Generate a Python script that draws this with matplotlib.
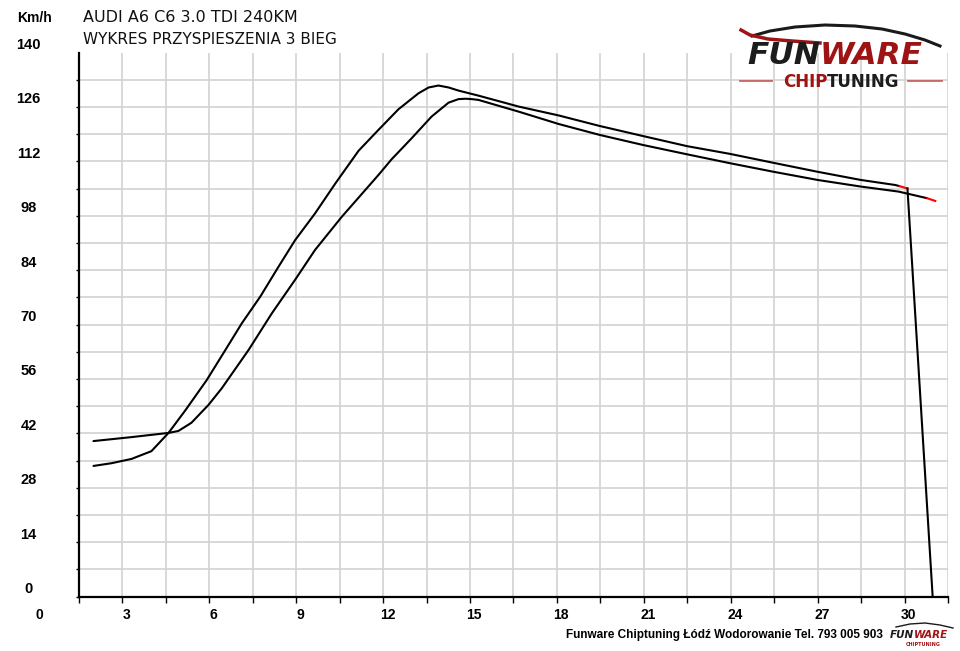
import numpy as np
import matplotlib
matplotlib.use("Agg")
import matplotlib.pyplot as plt
import matplotlib.transforms as mtransforms
from matplotlib.lines import Line2D

# Dane (czas [s], predkosc [km/h])
t_a = [2.0, 2.62, 3.31, 4.0, 4.59, 5.18, 5.91, 6.55, 7.12, 7.76, 8.39, 8.96, 9.65,
       10.35, 11.15, 11.84, 12.53, 13.22, 13.57, 13.91, 14.26, 14.6, 15.29, 16.67,
       18.06, 19.47, 20.97, 22.49, 23.98, 25.48, 27.0, 28.49, 29.68, 29.83, 30.1]
v_a = [33.6, 34.3, 35.4, 37.4, 42.1, 48.0, 55.7, 63.4, 70.3, 77.2, 84.9, 91.7, 98.6,
       106.3, 114.7, 120.1, 125.4, 129.5, 131.0, 131.5, 131.0, 130.2, 128.9, 126.1,
       123.8, 121.1, 118.5, 115.9, 113.9, 111.6, 109.3, 107.2, 105.9, 105.6, 105.0]

t_b = [2.0, 3.29, 4.59, 4.93, 5.38, 5.97, 6.43, 7.35, 8.16, 8.96, 9.65, 10.57, 11.84,
       12.29, 12.98, 13.67, 14.26, 14.6, 14.85, 15.06, 15.29, 16.67, 18.06, 19.47,
       20.97, 22.49, 23.98, 25.48, 27.0, 28.49, 29.8, 30.78, 31.06]
v_b = [40.0, 41.0, 42.1, 42.6, 44.7, 49.3, 53.6, 63.4, 72.9, 81.5, 89.2, 97.7, 108.5,
       112.5, 117.9, 123.5, 127.1, 128.0, 128.1, 128.0, 127.8, 124.8, 121.6, 118.8,
       116.2, 113.8, 111.5, 109.3, 107.2, 105.5, 104.2, 102.5, 101.8]

# Hamowanie na koncu pomiaru
t_drop = [30.1, 30.97]
v_drop = [105.0, 0.0]

x_labels = [0, 3, 6, 9, 12, 15, 18, 21, 24, 27, 30]
y_labels = [0, 14, 28, 42, 56, 70, 84, 98, 112, 126, 140]

title1 = "AUDI A6 C6 3.0 TDI 240KM"
title2 = "WYKRES PRZYSPIESZENIA 3 BIEG"
footer = "Funware Chiptuning Łódź Wodorowanie Tel. 793 005 903"

W, H = 960, 651
def fx(px):
    return px / W
def fy(py):
    return 1 - py / H

bold_font = ["Liberation Sans", "DejaVu Sans"]

fig = plt.figure(figsize=(9.6, 6.51), dpi=100)
ax = fig.add_axes([fx(79), 1 - 596.5 / H, (948 - 79) / W, (596.5 - 52.5) / H])

ax.set_xlim(1.5, 31.5)
ax.set_ylim(0, 140)
ax.set_xticks(np.arange(1.5, 31.6, 1.5))
ax.set_yticks(np.arange(0, 134, 7))
ax.set_xticklabels([])
ax.set_yticklabels([])
ax.tick_params(axis="x", direction="out", length=4, width=1, color="black")
ax.tick_params(axis="y", direction="out", length=2, width=1, color="black")
ax.grid(True, color="#d2d2d2", linewidth=1.2)
ax.set_axisbelow(True)
for s in ["top", "right"]:
    ax.spines[s].set_visible(False)
for s in ["left", "bottom"]:
    ax.spines[s].set_linewidth(1.6)
    ax.spines[s].set_color("black")

# Krzywe
ax.plot(t_a[:-1], v_a[:-1], color="black", lw=1.5, solid_capstyle="round")
ax.plot(t_a[-2:], v_a[-2:], color="red", lw=1.5)
ax.plot(t_b[:-1], v_b[:-1], color="black", lw=1.5, solid_capstyle="round")
ax.plot(t_b[-2:], v_b[-2:], color="red", lw=1.5)
ax.plot(t_drop, v_drop, color="black", lw=1.5, clip_on=False)

# Opisy osi
ytrans = mtransforms.offset_copy(
    mtransforms.blended_transform_factory(fig.transFigure, ax.transData),
    fig=fig, x=0, y=7.5, units="dots")
for v in y_labels:
    ax.text(fx(28.5), v, str(v), transform=ytrans, ha="center", va="center",
            fontsize=10.5, fontweight="bold", family=bold_font, clip_on=False)

xtrans = mtransforms.offset_copy(ax.get_xaxis_transform(), fig=fig,
                                 x=4.3, y=-18.5, units="dots")
for v in x_labels:
    ax.text(v, 0, str(v), transform=xtrans, ha="center", va="center",
            fontsize=10, fontweight="bold", family=bold_font, clip_on=False)

fig.text(fx(35), fy(18), "Km/h", ha="center", va="center", fontsize=10,
         fontweight="bold", family=bold_font)
fig.text(fx(83), fy(18), title1, ha="left", va="center", fontsize=11.5,
         family="DejaVu Sans", color="#111111")
fig.text(fx(83), fy(40), title2, ha="left", va="center", fontsize=11,
         family="DejaVu Sans", color="#111111")

# Logo w prawym gornym rogu
dark_red = "#9e1414"
roof_x = [752, 770, 795, 825, 855, 882, 905, 925, 940]
roof_y = [36, 31, 27, 25, 26, 29, 34, 40, 46]
fig.add_artist(Line2D([fx(p) for p in roof_x], [fy(p) for p in roof_y],
                      color="#1a1a1a", lw=2.2, transform=fig.transFigure))
sw_x = [741, 750, 768, 792, 820]
sw_y = [30, 35, 39, 41, 43]
fig.add_artist(Line2D([fx(p) for p in sw_x], [fy(p) for p in sw_y],
                      color=dark_red, lw=2.5, transform=fig.transFigure))
fig.text(fx(820), fy(56), "FUN", ha="right", va="center", fontsize=22.5,
         fontweight="bold", style="italic", family="DejaVu Sans", color="#1c1c1c")
fig.text(fx(820), fy(56), "WARE", ha="left", va="center", fontsize=22.5,
         fontweight="bold", style="italic", family="DejaVu Sans", color=dark_red)
fig.text(fx(827), fy(82), "CHIP", ha="right", va="center", fontsize=12,
         fontweight="bold", family="DejaVu Sans", color=dark_red)
fig.text(fx(827), fy(82), "TUNING", ha="left", va="center", fontsize=12,
         fontweight="bold", family="DejaVu Sans", color="#1c1c1c")
fig.add_artist(Line2D([fx(740), fx(772)], [fy(81), fy(81)], color="#c04040",
                      lw=1.3, alpha=0.8, transform=fig.transFigure))
fig.add_artist(Line2D([fx(908), fx(942)], [fy(81), fy(81)], color="#c04040",
                      lw=1.3, alpha=0.8, transform=fig.transFigure))

# Stopka
fig.text(fx(883), fy(635), footer, ha="right", va="center", fontsize=8.5,
         fontweight="bold", family=["Liberation Sans Narrow", "Liberation Sans", "DejaVu Sans"])
fig.add_artist(Line2D([fx(p) for p in [896, 910, 925, 940, 953]],
                      [fy(p) for p in [627, 624, 623, 625, 628]],
                      color="#1a1a1a", lw=1, transform=fig.transFigure))
fig.text(fx(914), fy(635), "FUN", ha="right", va="center", fontsize=7.5,
         fontweight="bold", style="italic", family="DejaVu Sans", color="#1c1c1c")
fig.text(fx(914), fy(635), "WARE", ha="left", va="center", fontsize=7.5,
         fontweight="bold", style="italic", family="DejaVu Sans", color=dark_red)
fig.text(fx(923), fy(645), "CHIPTUNING", ha="center", va="center", fontsize=3.5,
         fontweight="bold", family="DejaVu Sans", color=dark_red)

fig.savefig("out.png", dpi=100)
